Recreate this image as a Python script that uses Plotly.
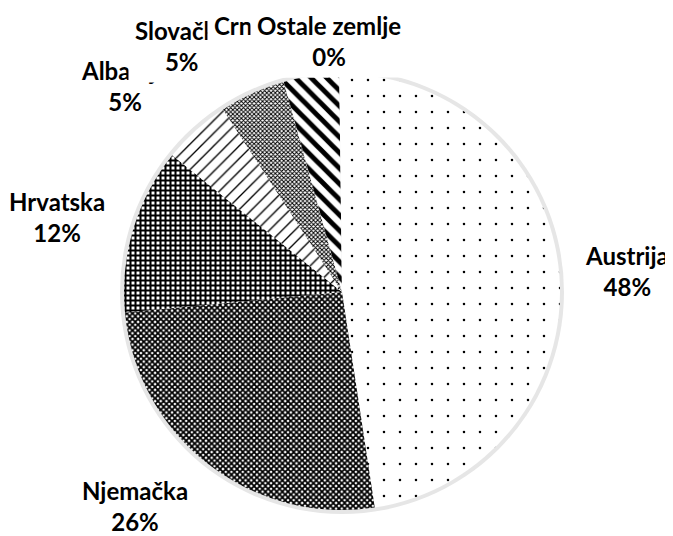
import math
import plotly.graph_objects as go

countries = ["Austrija", "Njemačka", "Hrvatska", "Albanija", "Slovačka", "Crna Gora", "Ostale zemlje"]
shares = [47.6, 25.9, 12.3, 5.0, 4.9, 4.1, 0.2]

# fill patterns per slice (black on white, like the printed original)
shapes = [".", "x", "+", "/", "x", "\\", ""]
sizes = [16, 4, 5, 9, 3, 11, 8]
solidity = [0.02, 0.7, 0.65, 0.15, 0.55, 0.45, 0.2]

# label nudges in px (right, down) - mimics how Excel shuffled the crowded labels
label_nudge = [(-7, -3), (3, -15), (4, -5), (-3, 12), (-6, 13), (-40, 28), (-11, 30)]

W, H = 673, 536
margin = dict(l=0, r=5, t=62, b=30)
plot_w = W - margin["l"] - margin["r"]
plot_h = H - margin["t"] - margin["b"]
shadow = 4  # px of grey halo round the pie
inset = shadow / plot_h
cx = margin["l"] + plot_w / 2
cy = margin["t"] + plot_h / 2
radius = plot_h / 2 - shadow
gap = 26

fig = go.Figure()

# soft grey disc behind the pie, reads as the shadow edge
fig.add_trace(go.Pie(
    values=[1],
    marker=dict(colors=["#e6e6e6"], line=dict(width=0)),
    textinfo="none",
    hoverinfo="skip",
    showlegend=False,
    domain=dict(x=[0, 1], y=[0, 1]),
))

fig.add_trace(go.Pie(
    labels=countries,
    values=shares,
    sort=False,
    direction="clockwise",
    rotation=0,
    textinfo="none",
    marker=dict(
        colors=["white"] * len(countries),
        line=dict(width=0),
        pattern=dict(
            shape=shapes,
            size=sizes,
            solidity=solidity,
            fgcolor="black",
            bgcolor="white",
            fillmode="replace",
        ),
    ),
    showlegend=False,
    hoverinfo="label+percent",
    domain=dict(x=[0, 1], y=[inset, 1 - inset]),
))

total = sum(shares)
annotations = []
cum = 0
for name, v, (dx, dy) in zip(countries, shares, label_nudge):
    mid = 2 * math.pi * (cum + v / 2) / total
    cum += v
    ux, uy = math.sin(mid), -math.cos(mid)
    px = cx + (radius + gap) * ux
    py = cy + (radius + gap) * uy
    xanchor = "left" if ux > 0.3 else "right" if ux < -0.3 else "center"
    yanchor = "top" if uy > 0.3 else "bottom" if uy < -0.3 else "middle"
    annotations.append(dict(
        x=(px - margin["l"]) / plot_w,
        y=1 - (py - margin["t"]) / plot_h,
        xref="paper", yref="paper",
        text=f"<b>{name}<br>{round(100 * v / total)}%</b>",
        showarrow=False,
        xanchor=xanchor, yanchor=yanchor,
        xshift=dx, yshift=-dy,
        align="center",
        bgcolor="white",
        borderpad=6,
        font=dict(family="Lato", size=24, color="black"),
    ))

fig.update_layout(
    width=W,
    height=H,
    margin=margin,
    paper_bgcolor="white",
    plot_bgcolor="white",
    annotations=annotations,
)

fig.write_html("out.html")
